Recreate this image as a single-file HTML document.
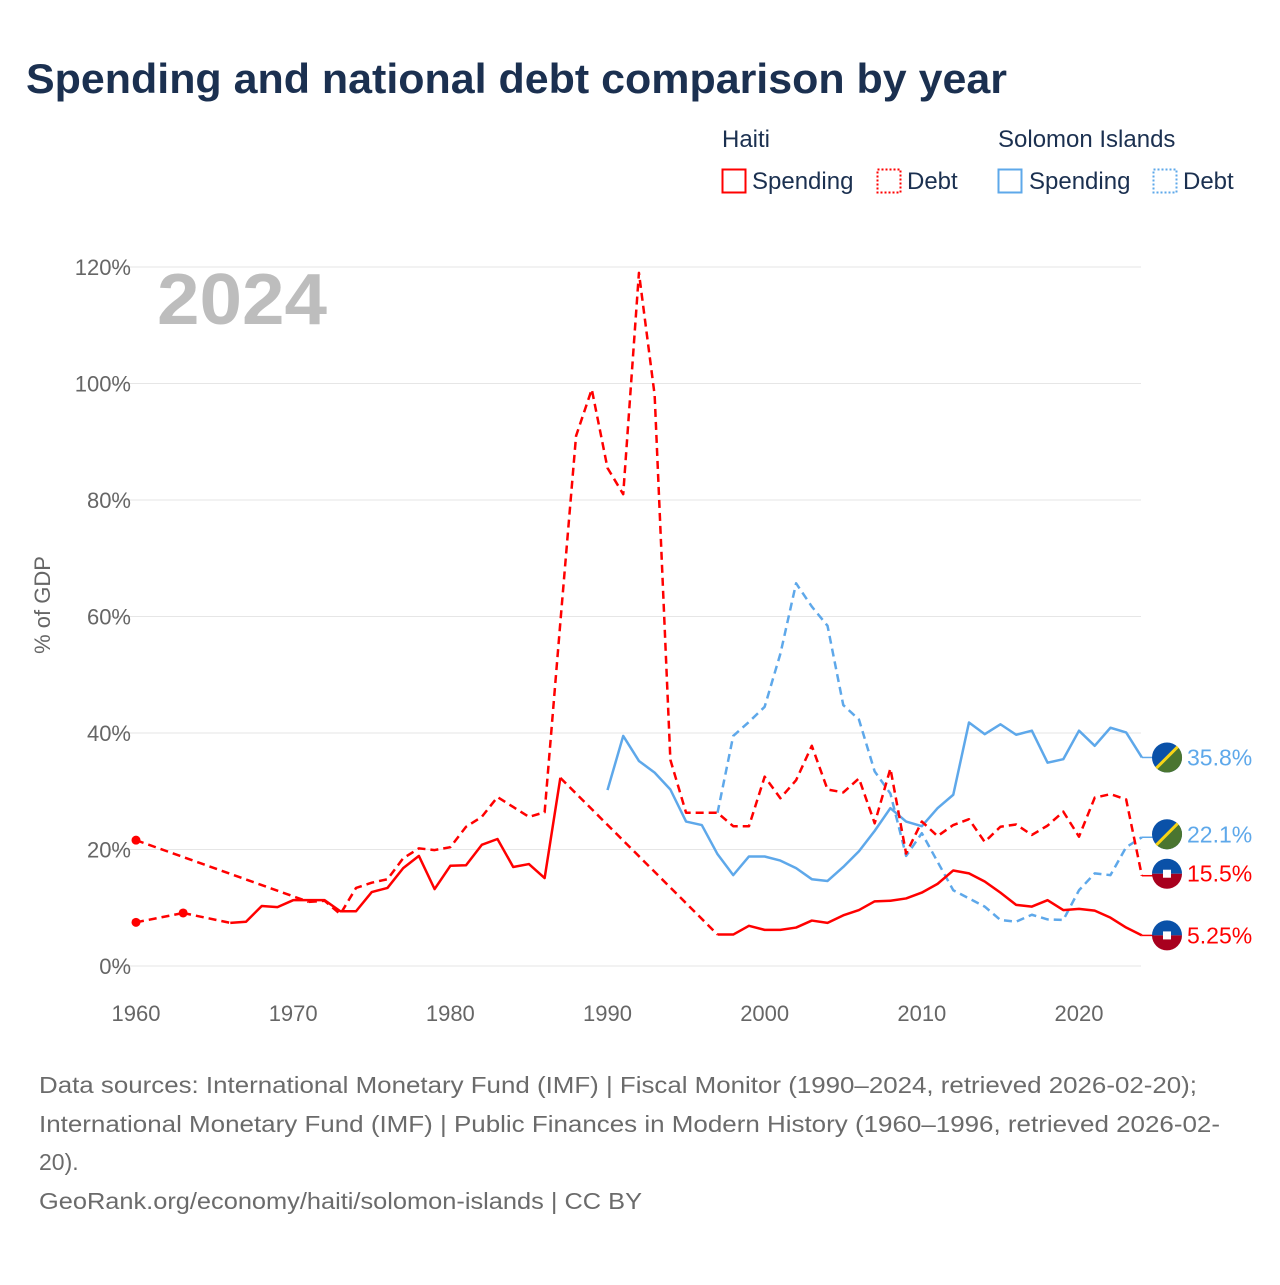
<!DOCTYPE html>
<html><head><meta charset="utf-8">
<style>
body{margin:0;background:#fff;font-family:"Liberation Sans",sans-serif;}
svg text{font-family:"Liberation Sans",sans-serif;}
</style></head>
<body>
<svg id="chart" width="1280" height="1280" viewBox="0 0 1280 1280" xmlns="http://www.w3.org/2000/svg">
<rect width="1280" height="1280" fill="#fff"/>
<text x="26" y="93" font-size="42" font-weight="bold" fill="#1b3050" textLength="981" lengthAdjust="spacingAndGlyphs">Spending and national debt comparison by year</text>
<g font-size="24" fill="#1b3050">
<text x="722" y="147">Haiti</text>
<text x="998" y="147">Solomon Islands</text>
<g><rect x="722.5" y="169.5" width="23" height="23" fill="none" stroke="#ff0000" stroke-width="2"/><text x="752" y="189">Spending</text></g>
<g><rect x="877.5" y="169.5" width="23" height="23" fill="none" stroke="#ff0000" stroke-width="2" stroke-dasharray="2,2"/><text x="907" y="189">Debt</text></g>
<g><rect x="998.5" y="169.5" width="23" height="23" fill="none" stroke="#5ea8ea" stroke-width="2"/><text x="1029" y="189">Spending</text></g>
<g><rect x="1153.5" y="169.5" width="23" height="23" fill="none" stroke="#5ea8ea" stroke-width="2" stroke-dasharray="2,2"/><text x="1183" y="189">Debt</text></g>
</g>
<text x="157" y="324" font-size="72" font-weight="bold" fill="#bdbdbd" textLength="170" lengthAdjust="spacingAndGlyphs">2024</text>
<text transform="translate(50,605) rotate(-90)" text-anchor="middle" font-size="22" fill="#666">% of GDP</text>
<g id="grid"></g><g id="series"></g><g id="ends"></g>
<g font-size="23" fill="#6b6b6b">
<text x="39" y="1093" textLength="1158" lengthAdjust="spacingAndGlyphs">Data sources: International Monetary Fund (IMF) | Fiscal Monitor (1990–2024, retrieved 2026-02-20);</text>
<text x="39" y="1132" textLength="1181" lengthAdjust="spacingAndGlyphs">International Monetary Fund (IMF) | Public Finances in Modern History (1960–1996, retrieved 2026-02-</text>
<text x="39" y="1170">20).</text>
<text x="39" y="1209" textLength="603" lengthAdjust="spacingAndGlyphs">GeoRank.org/economy/haiti/solomon-islands | CC BY</text>
</g>
</svg>
<script>
const yTicks=[0,20,40,60,80,100,120];
const xTicks=[1960,1970,1980,1990,2000,2010,2020];
const N=null;
const haitiSpending=[7.5,N,N,9.1,N,N,7.4,7.6,10.3,10.1,11.3,11.3,11.3,9.4,9.4,12.7,13.4,16.8,18.9,13.2,17.2,17.3,20.8,21.8,17,17.5,15.1,32.3,N,N,N,N,N,N,N,N,N,5.4,5.4,6.9,6.2,6.2,6.6,7.8,7.4,8.7,9.6,11.1,11.2,11.6,12.6,14.1,16.4,15.9,14.5,12.6,10.5,10.2,11.3,9.6,9.8,9.5,8.3,6.6,5.25];
const haitiDebt=[21.6,N,N,N,N,N,N,N,N,N,N,11,11.2,8.9,13.4,14.3,14.9,18.5,20.2,19.9,20.4,23.9,25.6,29,27.3,25.6,26.4,59,91,99,85.5,81,119,98,35.4,26.3,26.3,26.3,24.0,24.0,32.5,28.8,31.9,37.8,30.3,29.8,32.2,24.5,33.9,19.3,24.8,22.3,24.2,25.2,21.3,23.9,24.3,22.5,24.1,26.5,22.2,28.9,29.5,28.6,15.5];
const solSpending=[30.2,39.5,35.2,33.2,30.3,24.8,24.2,19.2,15.6,18.8,18.8,18.1,16.8,14.9,14.6,17.0,19.7,23.2,27.1,24.8,24.0,27.1,29.4,41.8,39.8,41.5,39.7,40.4,34.9,35.5,40.4,37.8,40.9,40.1,35.8];
const solDebt=[26.3,39.5,41.9,44.5,53.6,65.7,61.7,58.4,44.8,42.3,33.4,29.6,18.9,22.8,17.9,13.0,11.6,10.2,7.9,7.6,8.8,8.0,7.9,13.0,15.9,15.6,20.4,22.1];
const endLabels=["35.8%","22.1%","15.5%","5.25%"];

const NS="http://www.w3.org/2000/svg";
const X=y=>136+(y-1960)*(1079-136)/60;
const Y=v=>966-v*(966-267)/120;
function el(t,a,p){const e=document.createElementNS(NS,t);for(const k in a)e.setAttribute(k,a[k]);p.appendChild(e);return e;}
const grid=document.getElementById('grid');
yTicks.forEach(v=>{
 const l=el('line',{x1:110,x2:1141,y1:Y(v),y2:Y(v),stroke:'#e6e6e6','stroke-width':1},grid);
 
 
 const t=el('text',{x:131,y:Y(v)+8,'text-anchor':'end','font-size':22,fill:'#666'},grid);t.textContent=v+'%';
 
 
});
xTicks.forEach(v=>{
 const t=el('text',{x:X(v),y:1021,'text-anchor':'middle','font-size':22,fill:'#666'},grid);t.textContent=v;
 
 
});
const sg=document.getElementById('series');
function draw(vals,start,color,dashed,name){
 const g=el('g',{},sg);
 
 
 const pts=vals.map((v,i)=>v==null?null:[X(start+i),Y(v)]);
 const idx=[];pts.forEach((p,i)=>{if(p)idx.push(i);});
 let seg=[];const segs=[];
 for(let k=0;k<idx.length;k++){
  const i=idx[k];
  if(k>0&&i-idx[k-1]>1){segs.push(seg);seg=[];
   const a=pts[idx[k-1]],b=pts[i];
   el('line',{x1:a[0],y1:a[1],x2:b[0],y2:b[1],stroke:color,'stroke-width':2.5,'stroke-dasharray':'8,5'},g);}
  seg.push(pts[i]);
 }
 segs.push(seg);
 segs.forEach(s=>{
  if(s.length==1){el('circle',{cx:s[0][0],cy:s[0][1],r:4.5,fill:color},g);return;}
  const a={points:s.map(p=>p.join(',')).join(' '),fill:'none',stroke:color,'stroke-width':2.5,'stroke-linejoin':'round'};
  if(dashed)a['stroke-dasharray']='8,5';
  el('polyline',a,g);
 });
 const last=pts[pts.length-1];
 el('line',{x1:last[0],y1:last[1],x2:last[0]+12,y2:last[1],stroke:color,'stroke-width':1.5},g);
}
draw(solDebt,1997,'#5ea8ea',true,'solomon-debt-line');
draw(solSpending,1990,'#5ea8ea',false,'solomon-spending-line');
draw(haitiDebt,1960,'#ff0000',true,'haiti-debt-line');
draw(haitiSpending,1960,'#ff0000',false,'haiti-spending-line');

const ends=document.getElementById('ends');
const endVals=[solSpending[solSpending.length-1],solDebt[solDebt.length-1],haitiDebt[64],haitiSpending[64]];
const endColors=['#5ea8ea','#5ea8ea','#ff0000','#ff0000'];
const flags=['sol','sol','hai','hai'];
endVals.forEach((v,i)=>{
 const cy=Y(v)+(i==1?-3:0)+(i==2?-2:0);
 const g=el('g',{},ends);
 
 
 const cx=1167,r=15;
 if(flags[i]=='sol'){
  el('circle',{cx,cy,r,fill:'#0a51a8'},g);
  el('path',{d:`M${cx+r*0.71},${cy-r*0.71} A${r},${r} 0 0 1 ${cx-r*0.71},${cy+r*0.71} Z`,fill:'#4a7530'},g);
  el('line',{x1:cx+r*0.71,y1:cy-r*0.71,x2:cx-r*0.71,y2:cy+r*0.71,stroke:'#f7d417','stroke-width':3},g);
 }else{
  el('path',{d:`M${cx-r},${cy} A${r},${r} 0 0 1 ${cx+r},${cy} Z`,fill:'#0a51a8'},g);
  el('path',{d:`M${cx-r},${cy} A${r},${r} 0 0 0 ${cx+r},${cy} Z`,fill:'#a8001e'},g);
  el('rect',{x:cx-4,y:cy-4,width:8,height:8,fill:'#fff'},g);
 }
 const t=el('text',{x:1187,y:cy+8,'font-size':23,fill:endColors[i]},ends);t.textContent=endLabels[i];
 
 
});
</script>
</body></html>
